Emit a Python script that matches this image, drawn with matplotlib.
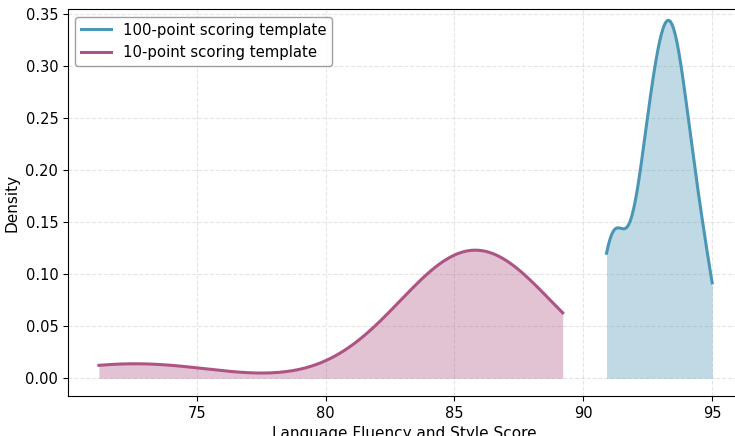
import numpy as np
import matplotlib
matplotlib.use("Agg")
import matplotlib.pyplot as plt
import seaborn as sns

# Scores (samples) for each scoring template
scores_100pt = [90.9, 90.95, 91.1, 91.2, 91.3, 91.4,
                92.0, 92.2, 92.3, 92.4, 92.5, 92.6, 92.7, 92.8, 92.9, 93.0,
                93.1, 93.15, 93.25, 93.3, 93.35, 93.4, 93.45, 93.55, 93.6,
                93.7, 93.8, 93.9, 94.0, 94.1, 94.25, 94.4, 94.6, 94.8, 95.0]
scores_10pt = [71.2, 74.0,
               82.6, 83.5, 84.0, 84.4, 84.8, 85.1, 85.3, 85.5, 85.7,
               85.9, 86.1, 86.3, 86.6, 86.9, 87.2, 87.6, 88.2, 89.2]
labels = ["100-point scoring template", "10-point scoring template"]
colors = ["#4a97b5", "#ad5485"]
bw = [0.9, 1.0]

fig = plt.figure(figsize=(7.35, 4.36), dpi=100)
ax = fig.add_axes([0.0925, 0.092, 0.915, 0.887])

for data, lab, col, b in [(scores_100pt, labels[0], colors[0], bw[0]),
                          (scores_10pt, labels[1], colors[1], bw[1])]:
    sns.kdeplot(x=data, ax=ax, color=col, fill=True, alpha=0.35, linewidth=0,
                cut=0, bw_adjust=b)
    sns.kdeplot(x=data, ax=ax, color=col, fill=False, linewidth=2.2,
                cut=0, bw_adjust=b, label=lab)

ax.set_xlabel("Language Fluency and Style Score", fontsize=11)
ax.set_ylabel("Density", fontsize=11)
ax.tick_params(labelsize=10.5)
ax.set_xticks([75, 80, 85, 90, 95])
ax.grid(True, linestyle="--", color="#cccccc", alpha=0.5, linewidth=0.8)
ax.set_axisbelow(True)
ax.legend(loc="upper left", fontsize=10.7, frameon=True, edgecolor="#888888",
          fancybox=True, handlelength=2.0)
ax.set_xlim(70.0, 96.1)
ax.set_ylim(-0.0169, 0.355)

fig.savefig("out.png", dpi=100)
